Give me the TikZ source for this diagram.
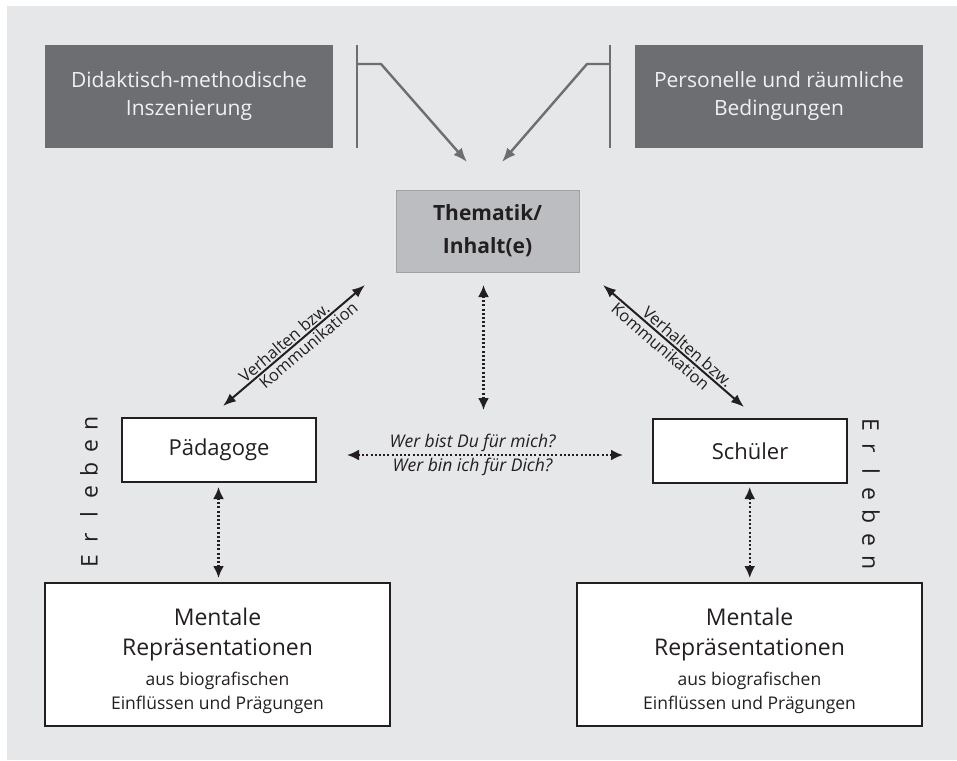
\documentclass[tikz,border=0pt]{standalone}
\usepackage{fontspec}
\setmainfont{Open Sans}
\usetikzlibrary{arrows.meta}
\definecolor{bg}{HTML}{E6E7E8}
\definecolor{dk}{HTML}{6D6E71}
\definecolor{md}{HTML}{BCBDC0}
\definecolor{tx}{HTML}{231F20}
\definecolor{lt}{HTML}{F1F1F2}
\newcommand{\spreadletters}[1]{\makebox[23pt]{#1}}
\newcommand{\smallline}{\fontsize{17.5}{24}\selectfont}
\begin{document}
\begin{tikzpicture}[x=1pt,y=-1pt,
  darkbox/.style={fill=dk, text=lt, draw=none, minimum width=288pt, minimum height=103pt, align=center, inner sep=0pt, font=\fontsize{21}{28}\selectfont},
  topicbox/.style={fill=md, draw=md!85!black, line width=0.6pt, text=tx, minimum width=183pt, minimum height=82pt, align=center, inner sep=0pt, font=\fontsize{21}{33}\selectfont\bfseries},
  personbox/.style={fill=white, draw=tx, line width=1.4pt, text=tx, minimum width=194pt, minimum height=64pt, inner sep=0pt, font=\fontsize{22}{28}\selectfont},
  mentalbox/.style={fill=white, draw=tx, line width=1.4pt, text=tx, minimum width=345pt, minimum height=143pt, align=center, inner sep=0pt, font=\fontsize{23}{30}\selectfont},
  bracket/.style={draw=dk, line width=2.4pt},
  grayarrow/.style={draw=dk, line width=2.4pt, -{Latex[length=14pt,width=11pt]}},
  solidarrow/.style={draw=tx, line width=2pt, {Latex[length=13pt,width=10pt]}-{Latex[length=13pt,width=10pt]}},
  dotarrow/.style={draw=tx, line width=2.2pt, dash pattern=on 2pt off 2.2pt, {Latex[length=12pt,width=11pt]}-{Latex[length=12pt,width=11pt]}},
  difflabel/.style={text=tx, font=\fontsize{16.5}{18}\selectfont, inner sep=1.5pt},
  asklabel/.style={text=tx, font=\fontsize{17.5}{20}\selectfont\itshape, inner sep=2pt},
  erleben/.style={text=tx, font=\fontsize{23}{23}\selectfont, inner sep=0pt}
]
\useasboundingbox (0,0) rectangle (957,760);
\fill[bg] (7,6) rectangle (957,760);

% top boxes
\node[darkbox] (dl) at (189,96.5) {Didaktisch-methodische\\Inszenierung};
\node[darkbox] (dr) at (779,96.5) {Personelle und räumliche\\Bedingungen};

% brackets
\coordinate (lb1) at (357,45);
\coordinate (lb2) at (357,148);
\coordinate (lh) at (357,64);
\coordinate (lk) at (381,64);
\coordinate (lt) at (467,162);
\coordinate (rb1) at (610,45);
\coordinate (rb2) at (610,148);
\coordinate (rh) at (610,64);
\coordinate (rk) at (587,64);
\coordinate (rt) at (502,162);
\draw[bracket] (lb1) -- (lb2);
\draw[grayarrow] (lh) -- (lk) -- (lt);
\draw[bracket] (rb1) -- (rb2);
\draw[grayarrow] (rh) -- (rk) -- (rt);

% topic
\node[topicbox] (th) at (487.5,231) {Thematik/\\Inhalt(e)};

% persons
\node[personbox] (pa) at (219,450) {Pädagoge};
\node[personbox] (sc) at (750,451) {Schüler};

% mental boxes
\node[mentalbox] (ml) at (217.5,654.5) {\rule{0pt}{30pt}Mentale\\Repräsentationen\\[0pt]\smallline aus biografischen\\[-6pt]\smallline Einflüssen und Prägungen};
\node[mentalbox] (mr) at (749.5,654.5) {\rule{0pt}{30pt}Mentale\\Repräsentationen\\[0pt]\smallline aus biografischen\\[-6pt]\smallline Einflüssen und Prägungen};

% coordinates for arrows
\coordinate (dlA) at (223,406);
\coordinate (dlB) at (365,285);
\coordinate (drA) at (603,285);
\coordinate (drB) at (744,407);
\coordinate (vA) at (483.5,285);
\coordinate (vB) at (483.5,410);
\coordinate (hA) at (347,455);
\coordinate (hB) at (623,455);
\coordinate (plA) at (218.5,487);
\coordinate (plB) at (218.5,578);
\coordinate (prA) at (749.7,487);
\coordinate (prB) at (749.7,578);

\draw[solidarrow] (dlA) -- node[difflabel, pos=0.47, sloped, above] {Verhalten bzw.} node[difflabel, pos=0.56, sloped, below] {Kommunikation} (dlB);
\draw[solidarrow] (drA) -- node[difflabel, pos=0.56, sloped, above] {Verhalten bzw.} node[difflabel, pos=0.45, sloped, below] {Kommunikation} (drB);
\draw[dotarrow] (vA) -- (vB);
\draw[dotarrow] (hA) -- node[asklabel, pos=0.455, above] {Wer bist Du für mich?} node[asklabel, pos=0.455, below] {Wer bin ich für Dich?} (hB);
\draw[dotarrow] (plA) -- (plB);
\draw[dotarrow] (prA) -- (prB);

% Erleben
\node[erleben, rotate=90] (el) at (89,492) {\spreadletters{E}\spreadletters{r}\spreadletters{l}\spreadletters{e}\spreadletters{b}\spreadletters{e}\spreadletters{n}};
\node[erleben, rotate=-90] (er) at (871,494) {\spreadletters{E}\spreadletters{r}\spreadletters{l}\spreadletters{e}\spreadletters{b}\spreadletters{e}\spreadletters{n}};
\end{tikzpicture}
\end{document}
